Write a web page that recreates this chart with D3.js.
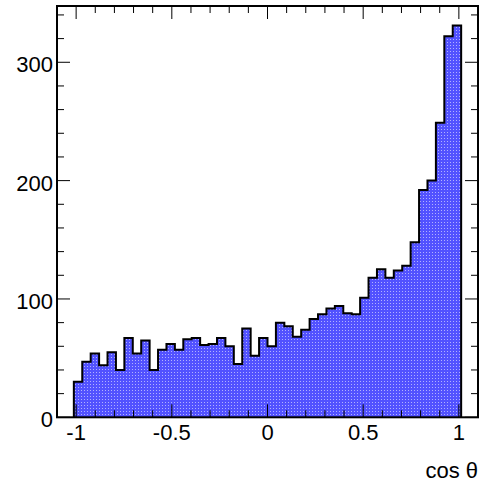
<!DOCTYPE html>
<html>
<head>
<meta charset="utf-8">
<script src="https://cdn.jsdelivr.net/npm/d3@7"></script>
<style>
  html, body { margin: 0; padding: 0; background: #fff; }
  svg { display: block; }
  text { font-family: "Liberation Sans", Arial, Helvetica, sans-serif; fill: #000; }
</style>
</head>
<body>
<svg id="chart" width="485" height="487"></svg>
<script>
// Histogram binning: 50 bins over [-1.1, 1.1]
const xMin = -1.1;
const xMax = 1.1;
const nBins = 50;

// Bin contents (entries per bin, left to right)
const counts = [
  0, 0,
  30, 47, 54, 44, 55, 40, 67, 54, 65, 40,
  57, 62, 57, 66, 67, 61, 62, 67, 60, 45,
  75, 52, 67, 60, 80, 77, 68, 74, 83, 87,
  92, 94, 88, 87, 101, 118, 125, 118, 124, 128,
  148, 192, 200, 249, 322, 331,
  0, 0
];

// Axis ticks and labels
const xMajorTicks = [-1, -0.5, 0, 0.5, 1];
const xTickLabels = ["-1", "-0.5", "0", "0.5", "1"];
const yMajorTicks = [0, 100, 200, 300];
const yTickLabels = ["0", "100", "200", "300"];
const xTitle = "cos θ";

const svg = d3.select("#chart");
const frame = { left: 57, right: 478, top: 6, bottom: 417.3 };

const binWidth = (xMax - xMin) / nBins;
const yMax = 1.05 * d3.max(counts);

const x = d3.scaleLinear().domain([xMin, xMax]).range([frame.left, frame.right]);
const y = d3.scaleLinear().domain([0, yMax]).range([frame.bottom, frame.top]);

// Light dot texture laid over the blue fill
const defs = svg.append("defs");
const pat = defs.append("pattern")
  .attr("id", "dots")
  .attr("patternUnits", "userSpaceOnUse")
  .attr("width", 3).attr("height", 3);
pat.append("rect").attr("x", 0).attr("y", 0).attr("width", 1).attr("height", 1)
  .attr("fill", "#ffffff").attr("fill-opacity", 0.55);

// Step outline over non-empty bins
const firstBin = counts.findIndex(c => c > 0);
const lastBin = counts.length - 1 - [...counts].reverse().findIndex(c => c > 0);
const pts = [[x(xMin + firstBin * binWidth), y(0)]];
for (let i = firstBin; i <= lastBin; i++) {
  const x0 = xMin + i * binWidth, x1 = x0 + binWidth;
  pts.push([x(x0), y(counts[i])]);
  pts.push([x(x1), y(counts[i])]);
}
pts.push([x(xMin + (lastBin + 1) * binWidth), y(0)]);

const line = d3.line();
const area = line(pts) + "Z";
svg.append("path").attr("d", area).attr("fill", "#5252ff");
svg.append("path").attr("d", area).attr("fill", "url(#dots)");
svg.append("path")
  .attr("d", line(pts))
  .attr("fill", "none")
  .attr("stroke", "#000")
  .attr("stroke-width", 2)
  .attr("stroke-linejoin", "miter");

// Axes: ticks drawn inward on all four sides
const majorLen = 13, minorLen = 7;
const xMinor = d3.range(-10, 11).map(d => d / 10).filter(v => !xMajorTicks.some(m => Math.abs(m - v) < 1e-9));
const yMinor = d3.range(0, yMax, 20).filter(v => !yMajorTicks.includes(v));

const g = svg.append("g").attr("stroke", "#000").attr("stroke-width", 1);
function xTicks(vals, len) {
  vals.forEach(v => {
    g.append("line").attr("x1", x(v)).attr("x2", x(v)).attr("y1", frame.bottom).attr("y2", frame.bottom - len);
    g.append("line").attr("x1", x(v)).attr("x2", x(v)).attr("y1", frame.top).attr("y2", frame.top + len);
  });
}
function yTicks(vals, len) {
  vals.forEach(v => {
    g.append("line").attr("y1", y(v)).attr("y2", y(v)).attr("x1", frame.left).attr("x2", frame.left + len);
    g.append("line").attr("y1", y(v)).attr("y2", y(v)).attr("x1", frame.right).attr("x2", frame.right - len);
  });
}
xTicks(xMajorTicks, majorLen);
xTicks(xMinor, minorLen);
yTicks(yMajorTicks, majorLen);
yTicks(yMinor, minorLen);

// Frame
svg.append("rect")
  .attr("x", frame.left).attr("y", frame.top)
  .attr("width", frame.right - frame.left).attr("height", frame.bottom - frame.top)
  .attr("fill", "none").attr("stroke", "#000").attr("stroke-width", 2);

// Tick labels
svg.append("g").selectAll("text").data(xMajorTicks).join("text")
  .attr("x", d => x(d)).attr("y", 439.5)
  .attr("text-anchor", "middle").attr("font-size", 22)
  .text((d, i) => xTickLabels[i]);
svg.append("g").selectAll("text").data(yMajorTicks).join("text")
  .attr("x", 53).attr("y", d => y(d) + 10)
  .attr("text-anchor", "end").attr("font-size", 22)
  .text((d, i) => yTickLabels[i]);

// Axis title
svg.append("text")
  .attr("x", frame.right).attr("y", 478)
  .attr("text-anchor", "end").attr("font-size", 22)
  .text(xTitle);
</script>
</body>
</html>
